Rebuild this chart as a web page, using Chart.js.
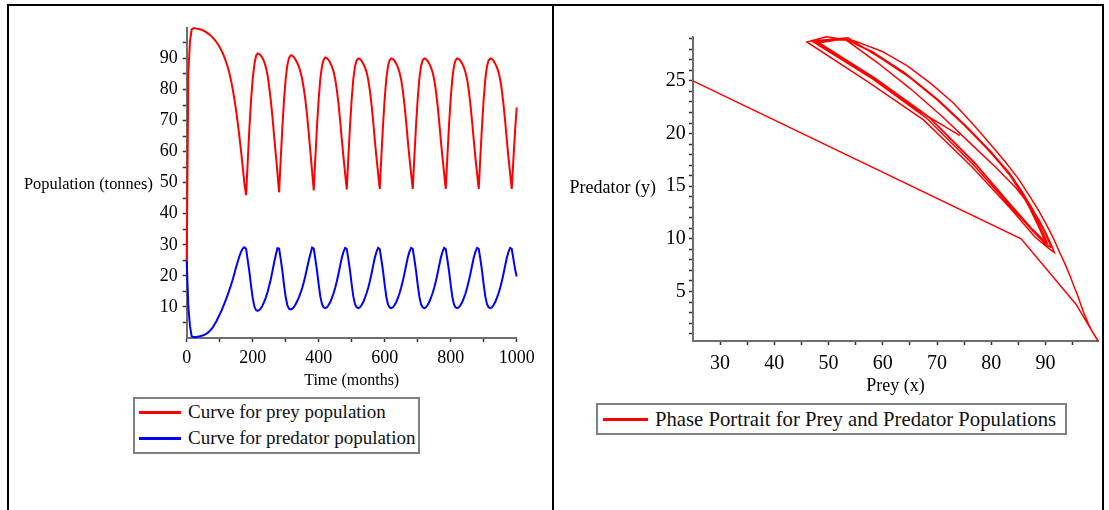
<!DOCTYPE html>
<html>
<head>
<meta charset="utf-8">
<script src="https://cdn.jsdelivr.net/npm/chart.js@4.4.1/dist/chart.umd.min.js"></script>
<style>
  html, body { margin: 0; padding: 0; background: #fff; }
  body { position: relative; width: 1109px; height: 510px; overflow: hidden; font-family: "Liberation Serif", "Times New Roman", serif; }
  .frame { position: absolute; left: 7px; top: 4px; width: 1093px; height: 600px; border: 2px solid #000; }
  .divider { position: absolute; left: 552px; top: 4px; width: 2px; height: 600px; background: #000; }
  canvas { position: absolute; top: 0; }
  #popChart { left: 0; }
  #phaseChart { left: 554px; }
  .legend { position: absolute; border: 2px solid #808080; background: #fff; color: #111; }
  .legend .item { display: flex; align-items: center; white-space: nowrap; }
  .legend .swatch { display: inline-block; height: 3px; }
  #legendL { left: 133px; top: 397px; font-size: 19px; padding: 0 3px 1px 0; }
  #legendL .item { height: 26px; }
  #legendL .swatch { width: 42px; margin: 0 7px 0 4px; }
  #legendR { left: 596px; top: 403px; font-size: 20.7px; padding: 0 9px 0 0; }
  #legendR .item { height: 28px; }
  #legendR .swatch { width: 45px; margin: 0 7px 0 5px; }
</style>
</head>
<body>
<div class="frame"></div>
<div class="divider"></div>
<canvas id="popChart" width="552" height="392"></canvas>
<canvas id="phaseChart" width="555" height="400"></canvas>
<div id="legendL" class="legend"></div>
<div id="legendR" class="legend"></div>

<script>
// time samples (months)
const months = [
  0, 5, 10, 15, 20, 25, 30, 35, 40, 45, 50, 55, 60, 65, 70, 75, 80, 85, 90, 95,
  100, 105, 110, 115, 120, 125, 130, 135, 140, 145, 150, 155, 160, 165, 170, 175, 180, 185, 190, 195,
  200, 205, 210, 215, 220, 225, 230, 235, 240, 245, 250, 255, 260, 265, 270, 275, 280, 285, 290, 295,
  300, 305, 310, 315, 320, 325, 330, 335, 340, 345, 350, 355, 360, 365, 370, 375, 380, 385, 390, 395,
  400, 405, 410, 415, 420, 425, 430, 435, 440, 445, 450, 455, 460, 465, 470, 475, 480, 485, 490, 495,
  500, 505, 510, 515, 520, 525, 530, 535, 540, 545, 550, 555, 560, 565, 570, 575, 580, 585, 590, 595,
  600, 605, 610, 615, 620, 625, 630, 635, 640, 645, 650, 655, 660, 665, 670, 675, 680, 685, 690, 695,
  700, 705, 710, 715, 720, 725, 730, 735, 740, 745, 750, 755, 760, 765, 770, 775, 780, 785, 790, 795,
  800, 805, 810, 815, 820, 825, 830, 835, 840, 845, 850, 855, 860, 865, 870, 875, 880, 885, 890, 895,
  900, 905, 910, 915, 920, 925, 930, 935, 940, 945, 950, 955, 960, 965, 970, 975, 980, 985, 990, 995,
  1000
];

// prey population (tonnes)
const prey = [
  25.0, 85.5, 95.6, 99.3, 99.7, 99.7, 99.6, 99.5, 99.4, 99.2, 99.0, 98.7, 98.4, 98.0, 97.6, 97.1, 96.6, 96.0, 95.3, 94.5,
  93.6, 92.6, 91.5, 90.2, 88.7, 87.0, 85.0, 82.6, 79.8, 76.6, 73.0, 69.0, 64.6, 59.9, 54.8, 49.6,
  46.0, 57.0, 67.5, 76.5, 83.5, 88.0, 90.8, 91.6, 91.4, 90.9, 90.1, 88.9, 87.2, 84.6, 80.8, 76.3, 71.0, 65.0, 59.1, 53.2,
  46.9, 57.8, 68.0, 76.8, 83.5, 87.9, 90.2, 91.0, 90.9, 90.4, 89.6, 88.6, 87.3, 85.6, 83.3, 80.2, 76.3, 71.5, 65.9, 59.8, 53.6,
  47.5, 58.3, 68.4, 77.0, 83.5, 87.6, 89.6, 90.3, 90.1, 89.5, 88.6, 87.4, 85.8, 83.4, 79.9, 75.4, 70.0, 64.0, 58.3, 53.1,
  47.8, 58.5, 68.5, 77.0, 83.5, 87.5, 89.4, 90.0, 89.8, 89.2, 88.3, 87.1, 85.6, 83.2, 79.7, 75.2, 69.8, 63.8, 58.2, 53.0,
  48.0, 58.6, 68.6, 77.1, 83.6, 87.6, 89.5, 90.0, 89.8, 89.2, 88.3, 87.1, 85.5, 83.1, 79.6, 75.0, 69.6, 63.6, 58.0, 52.9,
  48.0, 58.5, 68.5, 77.0, 83.5, 87.5, 89.4, 90.0, 89.8, 89.2, 88.3, 87.1, 85.6, 83.2, 79.7, 75.2, 69.8, 63.8, 58.2, 53.0,
  48.0, 58.6, 68.6, 77.1, 83.6, 87.6, 89.5, 90.0, 89.8, 89.2, 88.3, 87.1, 85.5, 83.1, 79.6, 75.0, 69.6, 63.6, 58.0, 52.9,
  48.0, 58.5, 68.5, 77.0, 83.5, 87.5, 89.4, 90.0, 89.8, 89.2, 88.3, 87.1, 85.6, 83.2, 79.7, 75.2, 69.8, 63.8, 58.2, 53.0,
  48.0, 57.5, 66.5, 74.2
];

// predator population (tonnes)
const predator = [
  25.0, 10.0, 3.8, 0.6, 0.3, 0.3, 0.35, 0.45, 0.55, 0.7, 0.9, 1.1, 1.4, 1.8, 2.3, 2.9, 3.6, 4.5, 5.4, 6.5,
  7.6, 8.7, 10.0, 11.3, 12.7, 14.1, 15.7, 17.3, 19.0, 20.9, 22.9, 24.7, 26.4, 27.8, 28.8, 29.2,
  28.7, 25.0, 21.3, 16.8, 12.9, 10.2, 9.0, 8.7, 9.0, 9.6, 10.5, 11.7, 13.1, 14.8, 16.8, 19.0, 21.6, 24.3, 26.7, 28.9,
  28.8, 25.3, 21.5, 17.0, 13.1, 10.6, 9.4, 9.2, 9.4, 10.0, 10.9, 11.9, 13.1, 14.5, 16.1, 18.0, 20.2, 22.6, 25.0, 27.1, 29.1,
  28.8, 25.3, 21.6, 17.2, 13.3, 10.9, 9.9, 9.6, 9.9, 10.6, 11.6, 12.9, 14.4, 16.2, 18.3, 20.7, 23.3, 25.8, 27.7, 29.0,
  28.7, 25.3, 21.6, 17.2, 13.3, 10.9, 9.9, 9.6, 9.9, 10.6, 11.6, 12.9, 14.4, 16.2, 18.3, 20.7, 23.3, 25.8, 27.7, 29.0,
  28.6, 25.2, 21.5, 17.1, 13.2, 10.8, 9.8, 9.6, 9.9, 10.6, 11.6, 12.9, 14.4, 16.3, 18.4, 20.8, 23.4, 25.9, 27.8, 29.0,
  28.7, 25.3, 21.6, 17.2, 13.3, 10.9, 9.9, 9.6, 9.9, 10.6, 11.6, 12.9, 14.4, 16.2, 18.3, 20.7, 23.3, 25.8, 27.7, 29.0,
  28.6, 25.2, 21.5, 17.1, 13.2, 10.8, 9.8, 9.6, 9.9, 10.6, 11.6, 12.9, 14.4, 16.3, 18.4, 20.8, 23.4, 25.9, 27.8, 29.0,
  28.7, 25.3, 21.6, 17.2, 13.3, 10.9, 9.9, 9.6, 9.9, 10.6, 11.6, 12.9, 14.4, 16.2, 18.3, 20.7, 23.3, 25.8, 27.7, 29.0,
  28.7, 25.5, 22.2, 19.8
];

// tick marks (all) and the ones that carry a label
const timeTicks = [0, 100, 200, 300, 400, 500, 600, 700, 800, 900, 1000];
const timeLabels = [0, 200, 400, 600, 800, 1000];
const popTicks = [5, 10, 15, 20, 25, 30, 35, 40, 45, 50, 55, 60, 65, 70, 75, 80, 85, 90, 95];
const popLabels = [10, 20, 30, 40, 50, 60, 70, 80, 90];
const preyTicks = [30, 35, 40, 45, 50, 55, 60, 65, 70, 75, 80, 85, 90, 95];
const preyLabels = [30, 40, 50, 60, 70, 80, 90];
const predTicks = [1, 2, 3, 4, 5, 6, 7, 8, 9, 10, 11, 12, 13, 14, 15, 16, 17, 18, 19, 20, 21, 22, 23, 24, 25, 26, 27, 28, 29];
const predLabels = [5, 10, 15, 20, 25];

Chart.defaults.font.family = '"Liberation Serif", "Times New Roman", serif';
Chart.defaults.color = '#000';

// legend as html, built from the chart's own datasets
const htmlLegend = {
  id: 'htmlLegend',
  afterUpdate(chart, args, opts) {
    const box = document.getElementById(opts.containerID);
    box.innerHTML = '';
    chart.data.datasets.forEach((ds) => {
      const row = document.createElement('div');
      row.className = 'item';
      const swatch = document.createElement('span');
      swatch.className = 'swatch';
      swatch.style.background = ds.borderColor;
      const text = document.createElement('span');
      text.textContent = ds.label;
      row.append(swatch, text);
      box.appendChild(row);
    });
  }
};

// horizontal y-axis title, left of the tick labels
const sideTitle = {
  id: 'sideTitle',
  afterDraw(chart, args, opts) {
    const { ctx, chartArea } = chart;
    ctx.save();
    ctx.font = opts.size + 'px ' + Chart.defaults.font.family;
    ctx.fillStyle = '#000';
    ctx.textBaseline = 'middle';
    ctx.textAlign = 'left';
    ctx.fillText(opts.text, opts.x, (chartArea.top + chartArea.bottom) / 2 + opts.dy);
    ctx.restore();
  }
};

function axisStyle(ticks, labels, fontSize, pad) {
  return {
    afterBuildTicks: (scale) => {
      scale.ticks = ticks.map((v) => ({ value: v }));
    },
    ticks: {
      autoSkip: false,
      maxRotation: 0,
      padding: pad,
      color: '#000',
      font: { size: fontSize },
      callback: (v) => (labels.includes(v) ? String(v) : '')
    },
    grid: { drawOnChartArea: false, drawTicks: true, tickLength: 4, tickColor: '#333', tickWidth: 1.5 },
    border: { display: true, color: '#6e6e6e', width: 2 }
  };
}

new Chart(document.getElementById('popChart'), {
  type: 'scatter',
  data: {
    datasets: [
      {
        label: 'Curve for prey population',
        data: months.map((m, i) => ({ x: m, y: prey[i] })),
        borderColor: '#ff0000',
        borderWidth: 2,
        showLine: true,
        pointRadius: 0,
        tension: 0,
        clip: false
      },
      {
        label: 'Curve for predator population',
        data: months.map((m, i) => ({ x: m, y: predator[i] })),
        borderColor: '#0000ff',
        borderWidth: 2,
        showLine: true,
        pointRadius: 0,
        tension: 0,
        clip: false
      }
    ]
  },
  options: {
    responsive: false,
    animation: false,
    layout: { autoPadding: false, padding: { left: 0, top: 28.3, right: 35.3, bottom: 0 } },
    plugins: {
      legend: { display: false },
      tooltip: { enabled: false },
      htmlLegend: { containerID: 'legendL' },
      sideTitle: { text: 'Population (tonnes)', x: 24, dy: 2, size: 16.4 }
    },
    scales: {
      x: {
        type: 'linear',
        min: 0,
        max: 1000,
        ...axisStyle(timeTicks, timeLabels, 18, 5.5),
        title: { display: true, text: 'Time (months)', color: '#000', font: { size: 16 }, padding: { top: 0, bottom: 2 } },
        afterFit: (s) => { s.height = 54; s.paddingLeft = 0; s.paddingRight = 0; }
      },
      y: {
        type: 'linear',
        min: 0,
        max: Math.max(...prey),
        ...axisStyle(popTicks, popLabels, 18, 5),
        afterFit: (s) => { s.width = 186.7; s.paddingTop = 0; s.paddingBottom = 0; }
      }
    }
  },
  plugins: [htmlLegend, sideTitle]
});

new Chart(document.getElementById('phaseChart'), {
  type: 'scatter',
  data: {
    datasets: [
      {
        label: 'Phase Portrait for Prey and Predator Populations',
        data: prey.map((p, i) => ({ x: p, y: predator[i] })),
        borderColor: '#ff0000',
        borderWidth: 1.5,
        showLine: true,
        pointRadius: 0,
        tension: 0,
        clip: false
      }
    ]
  },
  options: {
    responsive: false,
    animation: false,
    layout: { autoPadding: false, padding: { left: 0, top: 36.7, right: 10.8, bottom: 0 } },
    plugins: {
      legend: { display: false },
      tooltip: { enabled: false },
      htmlLegend: { containerID: 'legendR' },
      sideTitle: { text: 'Predator (y)', x: 15.6, dy: -1, size: 18 }
    },
    scales: {
      x: {
        type: 'linear',
        min: Math.min(...prey),
        max: Math.max(...prey),
        ...axisStyle(preyTicks, preyLabels, 20, 6.3),
        title: { display: true, text: 'Prey (x)', color: '#000', font: { size: 18 }, padding: { top: 0, bottom: 3.2 } },
        afterFit: (s) => { s.height = 59; s.paddingLeft = 0; s.paddingRight = 0; }
      },
      y: {
        type: 'linear',
        min: Math.min(...predator),
        max: Math.max(...predator),
        ...axisStyle(predTicks, predLabels, 20, 3.2),
        afterFit: (s) => { s.width = 138.9; s.paddingTop = 0; s.paddingBottom = 0; }
      }
    }
  },
  plugins: [htmlLegend, sideTitle]
});
</script>
</body>
</html>
